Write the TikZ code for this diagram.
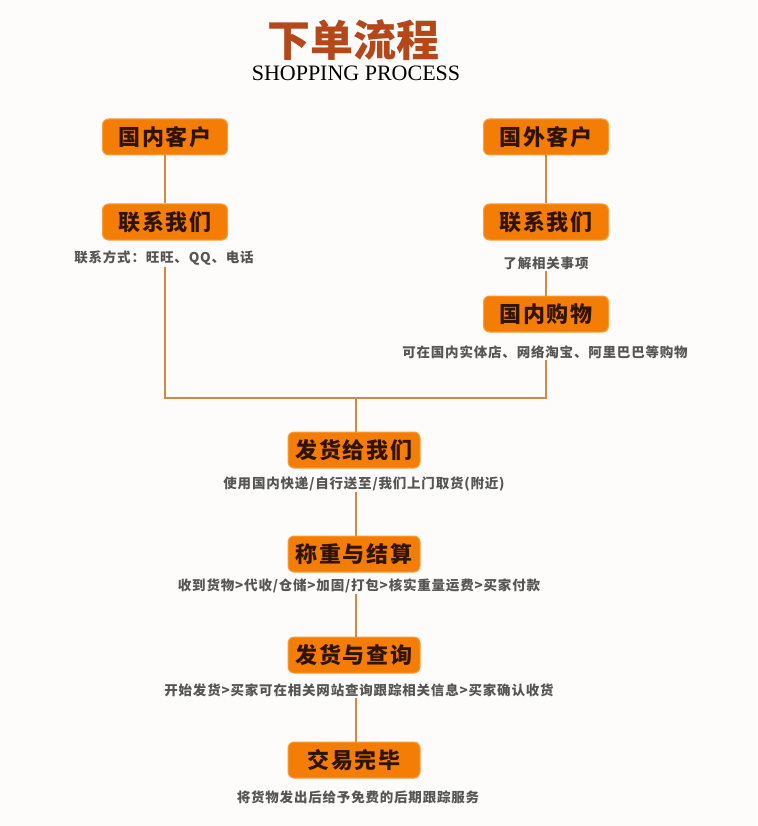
\documentclass[tikz,border=0pt]{standalone}
\usepackage{fontspec}
\setmainfont{Liberation Serif}
\newfontfamily\cjk{Noto Sans CJK SC}
\usetikzlibrary{positioning}

\definecolor{bgwhite}{HTML}{FDFCFA}
\definecolor{boxfill}{HTML}{F47E05}
\definecolor{boxedge}{HTML}{F7A040}
\definecolor{boxtext}{HTML}{301300}
\definecolor{linkbrown}{HTML}{CF8A4A}
\definecolor{notegray}{HTML}{555555}
\definecolor{titlered}{HTML}{B4481A}

\begin{document}
\begin{tikzpicture}[x=1pt,y=-1pt,
  box/.style={draw=boxedge, fill=boxfill, rounded corners=6pt, line width=1pt,
    minimum width=125pt, minimum height=36pt, inner sep=0pt, text=boxtext,
    font=\cjk\bfseries\fontsize{22}{22}\selectfont\addfontfeature{LetterSpace=8}},
  wide/.style={minimum width=132pt},
  note/.style={text=notegray, inner sep=1pt,
    font=\cjk\bfseries\fontsize{13.5}{14}\selectfont\addfontfeature{LetterSpace=6}},
  link/.style={draw=linkbrown, line width=2.2pt}]

\useasboundingbox[fill=bgwhite] (0,0) rectangle (757,826);

% Title
\node[text=titlered, font=\cjk\bfseries\fontsize{43}{43}\selectfont] (title) at (353,40) {下单流程};
\node[font=\fontsize{22}{22}\selectfont] (subtitle) at (356,73) {SHOPPING PROCESS};

% Domestic customers
\node[box] (homeA) at (165,137) {国内客户};
\node[box] (contactA) at (165,222) {联系我们};
\node[note] (noteA) at (164,258) {联系方式：旺旺、QQ、电话};

% Overseas customers
\node[box] (abroadB) at (546,137) {国外客户};
\node[box] (contactB) at (546,222) {联系我们};
\node[note] (noteB) at (546,263) {了解相关事项};
\node[box] (shopB) at (546,314) {国内购物};
\node[note] (noteShop) at (545,352) {可在国内实体店、网络淘宝、阿里巴巴等购物};

\coordinate (join) at (356,398);

% Common steps
\node[box, wide] (send) at (354,450) {发货给我们};
\node[note] (noteSend) at (364,484) {使用国内快递/自行送至/我们上门取货(附近)};
\node[box, wide] (weigh) at (354,554) {称重与结算};
\node[note] (noteWeigh) at (359,586) {收到货物>代收/仓储>加固/打包>核实重量运费>买家付款};
\node[box, wide] (ship) at (354,655) {发货与查询};
\node[note] (noteShip) at (359,690) {开始发货>买家可在相关网站查询跟踪相关信息>买家确认收货};
\node[box, wide] (done) at (354,760) {交易完毕};
\node[note] (noteDone) at (358,797) {将货物发出后给予免费的后期跟踪服务};

% Connectors
\draw[link] (homeA) -- (contactA);
\draw[link] (abroadB) -- (contactB);
\draw[link] (noteB.south -| contactB) -- (shopB);
\draw[link] (noteA.south -| contactA) |- (join) -| (noteShop.south -| shopB);
\draw[link] (join) -- (join |- send.north);
\draw[link] (noteSend.south -| join) -- (join |- weigh.north);
\draw[link] (noteWeigh.south -| join) -- (join |- ship.north);
\draw[link] (noteShip.south -| join) -- (join |- done.north);

\end{tikzpicture}
\end{document}
